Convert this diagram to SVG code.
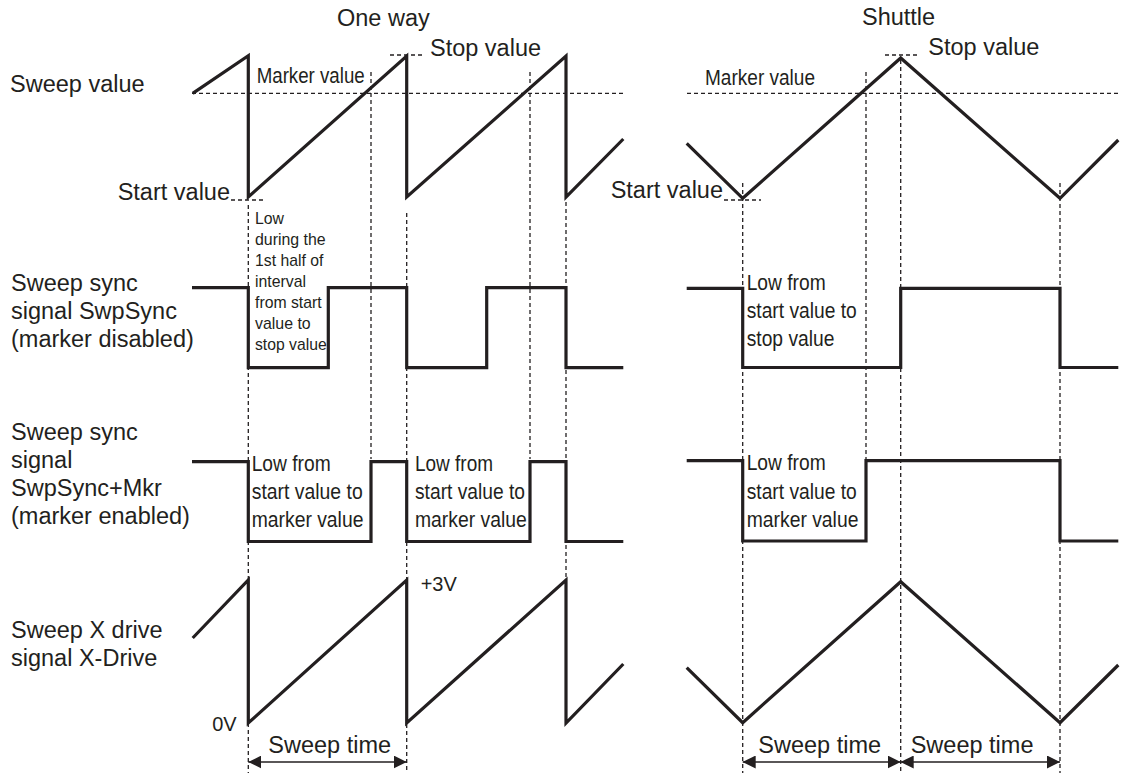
<svg xmlns="http://www.w3.org/2000/svg" width="1123" height="775" viewBox="0 0 1123 775">
<style>
text{font-family:"Liberation Sans",Arial,sans-serif;fill:#231f20;}
.lbl{font-size:23.5px;}
.nar{font-size:22px;}
.sm{font-size:17px;}
.v{font-size:20px;}
.sig{fill:none;stroke:#231f20;stroke-width:3.2;stroke-linejoin:miter;}
.dash{fill:none;stroke:#231f20;stroke-width:1.3;stroke-dasharray:4,3;}
.arr{fill:none;stroke:#231f20;stroke-width:1.5;marker-start:url(#ah);marker-end:url(#ah);}
</style>
<defs>
<marker id="ah" viewBox="0 0 13 13" refX="13" refY="6.5" markerWidth="13" markerHeight="13" markerUnits="userSpaceOnUse" orient="auto-start-reverse">
<path d="M0,0 L13,6.5 L0,13 z" fill="#231f20"/>
</marker>
</defs>
<rect width="1123" height="775" fill="#fff"/>

<g id="titles">
<text class="lbl" x="337" y="26">One way</text>
<text class="lbl" x="862" y="25">Shuttle</text>
</g>

<g id="row-labels">
<text class="lbl" x="10" y="92">Sweep value</text>
<text class="lbl" x="11" y="291">Sweep sync</text>
<text class="lbl" x="11" y="319">signal SwpSync</text>
<text class="lbl" x="11" y="347">(marker disabled)</text>
<text class="lbl" x="11" y="440">Sweep sync</text>
<text class="lbl" x="11" y="468">signal</text>
<text class="lbl" x="11" y="496">SwpSync+Mkr</text>
<text class="lbl" x="11" y="524">(marker enabled)</text>
<text class="lbl" x="11" y="638">Sweep X drive</text>
<text class="lbl" x="11" y="666">signal X-Drive</text>
</g>

<g id="connectors">
<!-- horizontal reference lines -->
<line class="dash" x1="192" y1="93.3" x2="624" y2="93.3"/>
<line class="dash" x1="687" y1="93.3" x2="1120" y2="93.3"/>
<line class="dash" x1="390" y1="55" x2="425" y2="55"/>
<line class="dash" x1="885" y1="55" x2="919" y2="55"/>
<line class="dash" x1="231" y1="200" x2="266" y2="200"/>
<line class="dash" x1="724" y1="200" x2="761" y2="200"/>
<!-- vertical guides, one way -->
<line class="dash" x1="248.3" y1="205" x2="248.3" y2="773"/>
<line class="dash" x1="371" y1="72" x2="371" y2="459"/>
<line class="dash" x1="406.7" y1="213" x2="406.7" y2="773"/>
<line class="dash" x1="530" y1="72" x2="530" y2="459"/>
<line class="dash" x1="566" y1="202" x2="566" y2="580"/>
<!-- vertical guides, shuttle -->
<line class="dash" x1="742.7" y1="183" x2="742.7" y2="773"/>
<line class="dash" x1="866" y1="72" x2="866" y2="459"/>
<line class="dash" x1="900.7" y1="60" x2="900.7" y2="773"/>
<line class="dash" x1="1060" y1="183" x2="1060" y2="773"/>
<!-- sweep time arrows -->
<line class="arr" x1="248.3" y1="762" x2="406.7" y2="762"/>
<line class="arr" x1="742.7" y1="762" x2="900.7" y2="762"/>
<line class="arr" x1="900.7" y1="762" x2="1060" y2="762"/>
</g>

<g id="sweep-value">
<path class="sig" d="M192.7,93.3 L248.3,55.7 V197 L406.7,56 V197 L566,56 V197 L623.3,139"/>
<path class="sig" d="M686.7,143.3 L742.7,198.3 L900.7,58 L1060,198.3 L1118.3,140"/>
<text class="nar" x="256.7" y="83.3" textLength="108" lengthAdjust="spacingAndGlyphs">Marker value</text>
<text class="nar" x="705" y="85" textLength="110" lengthAdjust="spacingAndGlyphs">Marker value</text>
<text class="lbl" x="430" y="56">Stop value</text>
<text class="lbl" x="928.3" y="54.5">Stop value</text>
<text class="lbl" x="230" y="200" text-anchor="end">Start value</text>
<text class="lbl" x="723" y="198" text-anchor="end">Start value</text>
</g>

<g id="swpsync">
<path class="sig" d="M192,287.7 H248.3 V367.7 H328.3 V287.7 H406.7 V367.7 H486.7 V287.7 H566 V367.7 H623.3"/>
<path class="sig" d="M686.7,288.3 H742.7 V367.5 H900.7 V288.3 H1060 V367.5 H1118.3"/>
<text class="sm" x="255" y="224" textLength="29" lengthAdjust="spacingAndGlyphs">Low</text>
<text class="sm" x="255" y="245" textLength="70.7" lengthAdjust="spacingAndGlyphs">during the</text>
<text class="sm" x="255" y="266" textLength="68.3" lengthAdjust="spacingAndGlyphs">1st half of</text>
<text class="sm" x="255" y="287" textLength="51" lengthAdjust="spacingAndGlyphs">interval</text>
<text class="sm" x="255" y="308" textLength="66.7" lengthAdjust="spacingAndGlyphs">from start</text>
<text class="sm" x="255" y="329" textLength="55.7" lengthAdjust="spacingAndGlyphs">value to</text>
<text class="sm" x="255" y="350" textLength="71.7" lengthAdjust="spacingAndGlyphs">stop value</text>
<text class="nar" x="746.7" y="290" textLength="79" lengthAdjust="spacingAndGlyphs">Low from</text>
<text class="nar" x="746.7" y="318.3" textLength="110" lengthAdjust="spacingAndGlyphs">start value to</text>
<text class="nar" x="746.7" y="346" textLength="87.7" lengthAdjust="spacingAndGlyphs">stop value</text>
</g>

<g id="swpsync-mkr">
<path class="sig" d="M192,461.7 H248.3 V541.5 H371 V461.7 H406.7 V541.5 H530 V461.7 H566 V541.5 H623.3"/>
<path class="sig" d="M686.7,460.7 H742.7 V541 H866 V460.7 H1060 V541 H1118.3"/>
<text class="nar" x="251.7" y="470.5" textLength="79" lengthAdjust="spacingAndGlyphs">Low from</text>
<text class="nar" x="251.7" y="499" textLength="111" lengthAdjust="spacingAndGlyphs">start value to</text>
<text class="nar" x="251.7" y="527" textLength="111.7" lengthAdjust="spacingAndGlyphs">marker value</text>
<text class="nar" x="415" y="470.5" textLength="78" lengthAdjust="spacingAndGlyphs">Low from</text>
<text class="nar" x="415" y="499" textLength="110" lengthAdjust="spacingAndGlyphs">start value to</text>
<text class="nar" x="415" y="527" textLength="111.7" lengthAdjust="spacingAndGlyphs">marker value</text>
<text class="nar" x="746.7" y="470" textLength="79" lengthAdjust="spacingAndGlyphs">Low from</text>
<text class="nar" x="746.7" y="498.5" textLength="110" lengthAdjust="spacingAndGlyphs">start value to</text>
<text class="nar" x="746.7" y="526.7" textLength="111.7" lengthAdjust="spacingAndGlyphs">marker value</text>
</g>

<g id="x-drive">
<path class="sig" d="M192.7,638 L248.3,580 V723 L406.7,580 V723 L566,580 V723 L623.3,664"/>
<path class="sig" d="M686.7,667.7 L742.7,722.7 L900.7,581.7 L1060,722.7 L1118.3,665"/>
<text class="v" x="236.7" y="731" text-anchor="end">0V</text>
<text class="v" x="420.7" y="590.7">+3V</text>
</g>

<g id="sweep-time">
<text class="lbl" x="268.3" y="753.3">Sweep time</text>
<text class="lbl" x="758.3" y="753.3">Sweep time</text>
<text class="lbl" x="910.7" y="753.3">Sweep time</text>
</g>
</svg>
